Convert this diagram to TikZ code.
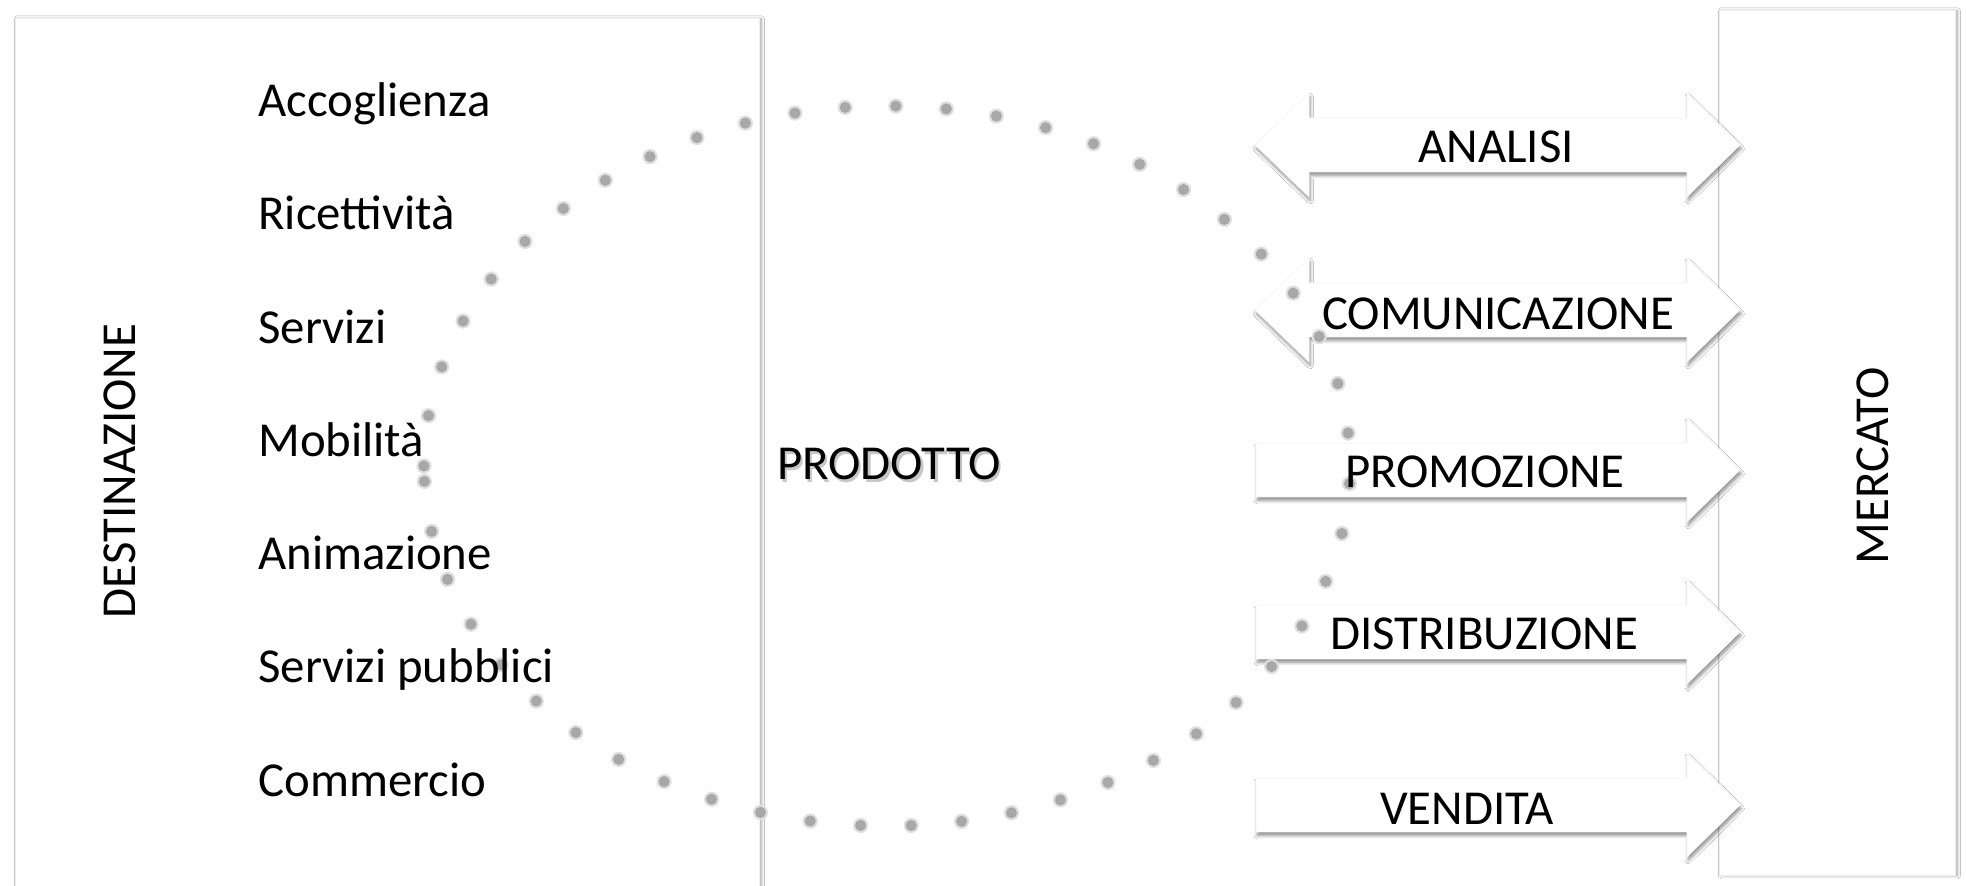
\documentclass[tikz,border=0pt]{standalone}
\usepackage{fontspec}
\setmainfont{Carlito}
\usetikzlibrary{shadows.blur}
\begin{document}
\begin{tikzpicture}[x=0.5pt,y=-0.5pt,
  panel/.style={fill=white, draw=gray!12, line width=0.4pt,
    blur shadow={shadow xshift=1.2pt, shadow yshift=-0.4pt, shadow blur radius=1.5pt, shadow blur steps=6, shadow opacity=35}},
  arrowshape/.style={fill=white, draw=gray!8, line width=0.3pt,
    blur shadow={shadow xshift=0.6pt, shadow yshift=-1.8pt, shadow blur radius=1.6pt, shadow blur steps=6, shadow opacity=45}},
  dotsA/.style={line cap=round, line width=7.6pt, draw=gray!25, dash pattern=on 0pt off 25.3pt},
  dotsB/.style={line cap=round, line width=5.6pt, draw=gray!68, dash pattern=on 0pt off 25.3pt},
  lbl/.style={font=\fontsize{24.4pt}{29pt}\selectfont, inner sep=0pt, text=black},
]
\useasboundingbox (0,0) rectangle (1966,886);
\fill[white] (0,0) rectangle (1966,886);

% panels
\path[panel] (15,18) rectangle (759,900);
\path[panel] (1719,10) rectangle (1955,875);

% double arrows
\foreach \c in {145,310}{
  \path[arrowshape] (1255,\c) -- (1309,\c-52) -- (1309,\c-27) -- (1687,\c-27) -- (1687,\c-52)
    -- (1740,\c) -- (1687,\c+52) -- (1687,\c+27) -- (1309,\c+27) -- (1309,\c+52) -- cycle;
}
% single arrows
\foreach \c in {470,632,805}{
  \path[arrowshape] (1256,\c-27) -- (1687,\c-27) -- (1687,\c-52) -- (1740,\c)
    -- (1687,\c+52) -- (1687,\c+27) -- (1256,\c+27) -- cycle;
}

% dotted ring
\coordinate (ringstart) at (424,466);
\path[dotsA] (ringstart) arc[start angle=180, end angle=-180, x radius=231.5pt, y radius=180pt];
\path[dotsB] (ringstart) arc[start angle=180, end angle=-180, x radius=231.5pt, y radius=180pt];

% left list
\node[lbl, anchor=base west] (acc) at (258,117) {Accoglienza};
\node[lbl, anchor=base west] (ric) at (258,230) {Ricettività};
\node[lbl, anchor=base west] (ser) at (258,344) {Servizi};
\node[lbl, anchor=base west] (mob) at (258,457) {Mobilità};
\node[lbl, anchor=base west] (ani) at (258,570) {Animazione};
\node[lbl, anchor=base west] (pub) at (258,683) {Servizi pubblici};
\node[lbl, anchor=base west] (com) at (258,797) {Commercio};

% side titles
\node[lbl, rotate=90, anchor=base] (dest) at (135,471) {DESTINAZIONE};
\node[lbl, rotate=90, anchor=base] (merc) at (1888,466) {MERCATO};

% product with soft text shadow
\node[lbl, anchor=base] (prod) at (889,480)
  {\makebox[0pt][l]{\kern1.2pt\raisebox{-1.4pt}{\textcolor{black!22}{PRODOTTO}}}PRODOTTO};

% arrow labels
\node[lbl, anchor=base] (ana) at (1496,163) {ANALISI};
\node[lbl, anchor=base] (comu) at (1498,330) {COMUNICAZIONE};
\node[lbl, anchor=base] (prom) at (1485,488) {PROMOZIONE};
\node[lbl, anchor=base] (dist) at (1484,650) {DISTRIBUZIONE};
\node[lbl, anchor=base] (vend) at (1467,825) {VENDITA};
\end{tikzpicture}
\end{document}
